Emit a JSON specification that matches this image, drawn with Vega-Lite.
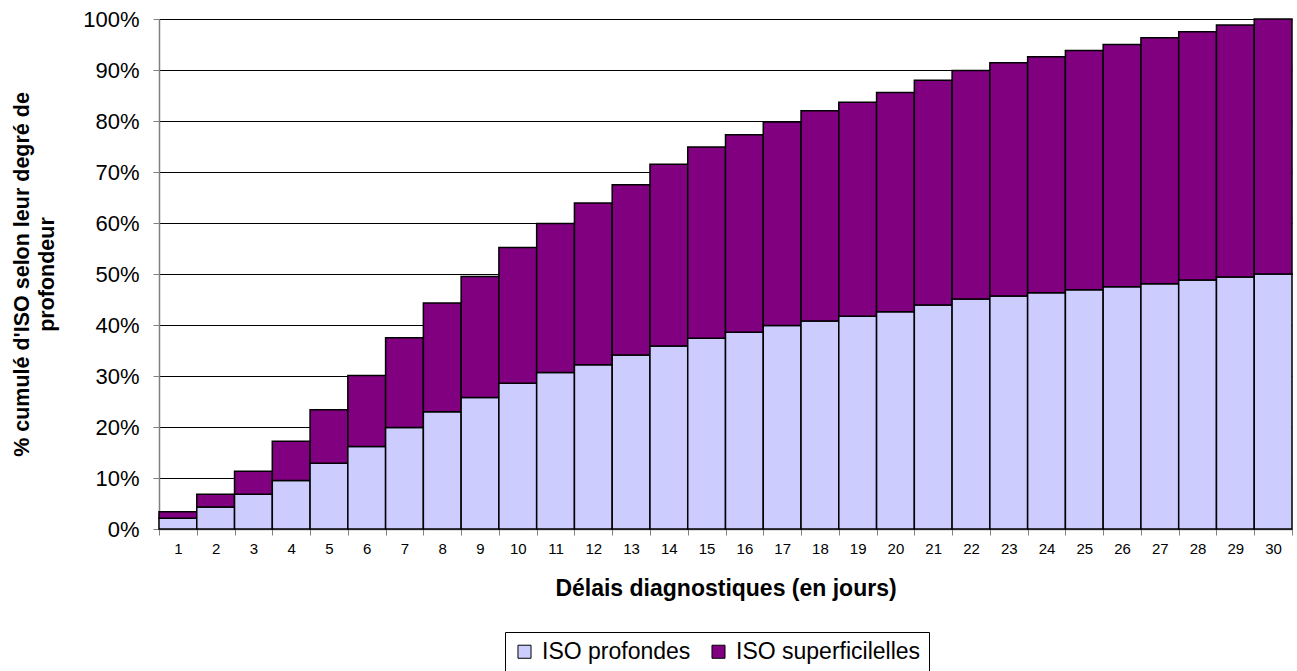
{
  "$schema": "https://vega.github.io/schema/vega-lite/v6.json",
  "autosize": "none",
  "padding": {"left": 159, "top": 19, "right": 5, "bottom": 142},
  "width": 1133,
  "height": 510,
  "background": "white",
  "config": {
    "font": "Liberation Sans",
    "view": {"stroke": null}
  },
  "data": {
    "values": [
      {"jour": 1, "type": "ISO profondes", "pct": 0.021},
      {"jour": 1, "type": "ISO superficilelles", "pct": 0.013},
      {"jour": 2, "type": "ISO profondes", "pct": 0.043},
      {"jour": 2, "type": "ISO superficilelles", "pct": 0.025},
      {"jour": 3, "type": "ISO profondes", "pct": 0.068},
      {"jour": 3, "type": "ISO superficilelles", "pct": 0.045},
      {"jour": 4, "type": "ISO profondes", "pct": 0.095},
      {"jour": 4, "type": "ISO superficilelles", "pct": 0.077},
      {"jour": 5, "type": "ISO profondes", "pct": 0.129},
      {"jour": 5, "type": "ISO superficilelles", "pct": 0.105},
      {"jour": 6, "type": "ISO profondes", "pct": 0.162},
      {"jour": 6, "type": "ISO superficilelles", "pct": 0.139},
      {"jour": 7, "type": "ISO profondes", "pct": 0.199},
      {"jour": 7, "type": "ISO superficilelles", "pct": 0.176},
      {"jour": 8, "type": "ISO profondes", "pct": 0.230},
      {"jour": 8, "type": "ISO superficilelles", "pct": 0.213},
      {"jour": 9, "type": "ISO profondes", "pct": 0.258},
      {"jour": 9, "type": "ISO superficilelles", "pct": 0.237},
      {"jour": 10, "type": "ISO profondes", "pct": 0.286},
      {"jour": 10, "type": "ISO superficilelles", "pct": 0.266},
      {"jour": 11, "type": "ISO profondes", "pct": 0.307},
      {"jour": 11, "type": "ISO superficilelles", "pct": 0.292},
      {"jour": 12, "type": "ISO profondes", "pct": 0.322},
      {"jour": 12, "type": "ISO superficilelles", "pct": 0.317},
      {"jour": 13, "type": "ISO profondes", "pct": 0.341},
      {"jour": 13, "type": "ISO superficilelles", "pct": 0.334},
      {"jour": 14, "type": "ISO profondes", "pct": 0.359},
      {"jour": 14, "type": "ISO superficilelles", "pct": 0.356},
      {"jour": 15, "type": "ISO profondes", "pct": 0.374},
      {"jour": 15, "type": "ISO superficilelles", "pct": 0.375},
      {"jour": 16, "type": "ISO profondes", "pct": 0.386},
      {"jour": 16, "type": "ISO superficilelles", "pct": 0.387},
      {"jour": 17, "type": "ISO profondes", "pct": 0.399},
      {"jour": 17, "type": "ISO superficilelles", "pct": 0.399},
      {"jour": 18, "type": "ISO profondes", "pct": 0.408},
      {"jour": 18, "type": "ISO superficilelles", "pct": 0.412},
      {"jour": 19, "type": "ISO profondes", "pct": 0.417},
      {"jour": 19, "type": "ISO superficilelles", "pct": 0.420},
      {"jour": 20, "type": "ISO profondes", "pct": 0.426},
      {"jour": 20, "type": "ISO superficilelles", "pct": 0.430},
      {"jour": 21, "type": "ISO profondes", "pct": 0.439},
      {"jour": 21, "type": "ISO superficilelles", "pct": 0.441},
      {"jour": 22, "type": "ISO profondes", "pct": 0.451},
      {"jour": 22, "type": "ISO superficilelles", "pct": 0.448},
      {"jour": 23, "type": "ISO profondes", "pct": 0.457},
      {"jour": 23, "type": "ISO superficilelles", "pct": 0.457},
      {"jour": 24, "type": "ISO profondes", "pct": 0.463},
      {"jour": 24, "type": "ISO superficilelles", "pct": 0.463},
      {"jour": 25, "type": "ISO profondes", "pct": 0.469},
      {"jour": 25, "type": "ISO superficilelles", "pct": 0.469},
      {"jour": 26, "type": "ISO profondes", "pct": 0.475},
      {"jour": 26, "type": "ISO superficilelles", "pct": 0.475},
      {"jour": 27, "type": "ISO profondes", "pct": 0.481},
      {"jour": 27, "type": "ISO superficilelles", "pct": 0.482},
      {"jour": 28, "type": "ISO profondes", "pct": 0.488},
      {"jour": 28, "type": "ISO superficilelles", "pct": 0.487},
      {"jour": 29, "type": "ISO profondes", "pct": 0.494},
      {"jour": 29, "type": "ISO superficilelles", "pct": 0.494},
      {"jour": 30, "type": "ISO profondes", "pct": 0.500},
      {"jour": 30, "type": "ISO superficilelles", "pct": 0.500}
    ]
  },
  "mark": {"type": "bar", "stroke": "black", "strokeWidth": 1.5},
  "encoding": {
    "x": {
      "field": "jour",
      "type": "ordinal",
      "scale": {"paddingInner": 0, "paddingOuter": 0},
      "axis": {
        "title": "Délais diagnostiques (en jours)",
        "titleFontSize": 23,
        "titleFontWeight": "bold",
        "titleColor": "black",
        "titlePadding": 21,
        "labelAngle": 0,
        "labelFontSize": 15,
        "labelColor": "black",
        "labelPadding": 6,
        "tickBand": "extent",
        "tickSize": 6,
        "tickColor": "#808080",
        "domainColor": "#808080",
        "domainWidth": 1.5,
        "grid": false
      }
    },
    "y": {
      "field": "pct",
      "type": "quantitative",
      "stack": "zero",
      "scale": {"domain": [0, 1]},
      "axis": {
        "title": ["% cumulé d'ISO selon leur degré de", "profondeur"],
        "titleFontSize": 21.5,
        "titleFontWeight": "bold",
        "titleColor": "black",
        "titlePadding": 24,
        "titleLineHeight": 25,
        "format": ".0%",
        "values": [0, 0.1, 0.2, 0.3, 0.4, 0.5, 0.6, 0.7, 0.8, 0.9, 1],
        "labelFontSize": 22,
        "labelColor": "black",
        "labelPadding": 14,
        "tickSize": 6,
        "tickColor": "#808080",
        "domainColor": "#808080",
        "domainWidth": 1.5,
        "grid": true,
        "gridColor": "black",
        "gridWidth": 1
      }
    },
    "color": {
      "field": "type",
      "type": "nominal",
      "scale": {"domain": ["ISO profondes", "ISO superficilelles"], "range": ["#CCCCFF", "#800080"]},
      "legend": {
        "title": null,
        "orient": "none",
        "legendX": 346,
        "legendY": 613,
        "direction": "horizontal",
        "strokeColor": "black",
        "padding": 8,
        "fillColor": "white",
        "symbolType": "square",
        "symbolSize": 170,
        "symbolStrokeColor": "black",
        "symbolStrokeWidth": 1,
        "labelFontSize": 23,
        "labelLimit": 0,
        "labelColor": "black",
        "labelOffset": 6,
        "columnPadding": 16
      }
    },
    "order": {"field": "type", "sort": "ascending"}
  }
}
